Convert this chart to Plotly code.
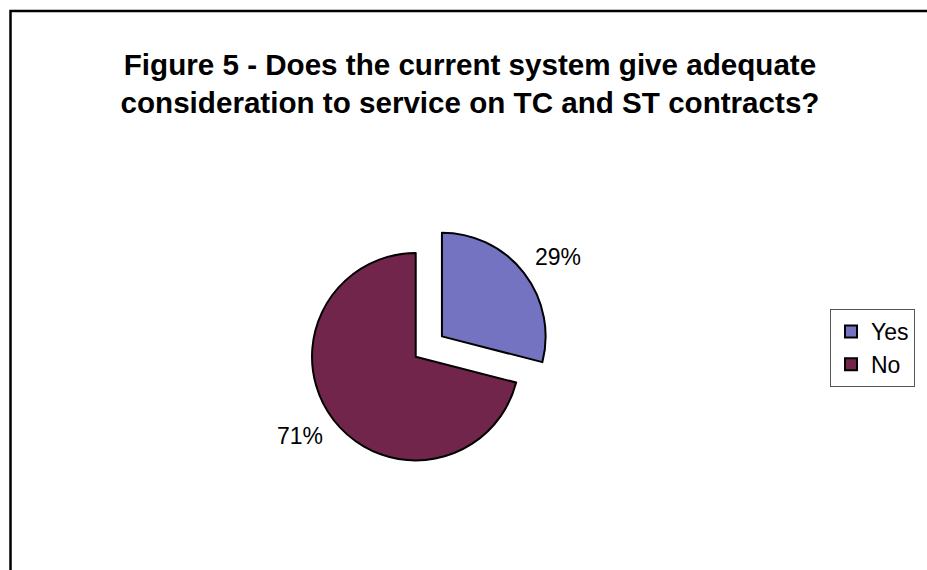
import math
import plotly.graph_objects as go

# Survey responses
answers = ["Yes", "No"]
shares = [29, 71]
slice_colors = ["#7373c2", "#71254b"]
pulls = [0.32, 0]

W, H = 927, 570
FONT = "Arial, Liberation Sans, sans-serif"
LABEL_SIZE = 23

# Pie placement (paper fractions; margins are zero so paper == page)
dom_x = [0.3008, 0.5961]
dom_y = [0.134, 0.6144]

fig = go.Figure(
    go.Pie(
        labels=answers,
        values=shares,
        sort=False,
        direction="clockwise",
        rotation=0,
        pull=pulls,
        marker=dict(colors=slice_colors, line=dict(color="black", width=2)),
        textinfo="none",
        domain=dict(x=dom_x, y=dom_y),
        hoverinfo="label+percent",
    )
)

# Percentage labels placed just beyond the rim of each slice, along its bisector
total = sum(shares)
cx = W * (dom_x[0] + dom_x[1]) / 2
cy = H * (1 - (dom_y[0] + dom_y[1]) / 2)
r = min(W * (dom_x[1] - dom_x[0]), H * (dom_y[1] - dom_y[0])) / 2 / (1 + max(pulls))
start = 0.0
annotations = []
for name, v, p in zip(answers, shares, pulls):
    frac = v / total
    mid = 2 * math.pi * (start + frac / 2)
    start += frac
    sx, sy = math.sin(mid), math.cos(mid)
    dist = (p + 1.12) * r
    px = cx + dist * sx
    py = cy - dist * sy
    annotations.append(
        dict(
            text=f"{round(frac * 100)}%",
            x=px / W,
            y=1 - py / H,
            xref="paper",
            yref="paper",
            xanchor="left" if sx > 0 else "right",
            yanchor="middle",
            yshift=8 if sy > 0 else -8,
            showarrow=False,
            borderpad=0,
            font=dict(family=FONT, size=LABEL_SIZE, color="black"),
        )
    )

fig.update_layout(
    width=W,
    height=H,
    margin=dict(l=0, r=0, t=0, b=0),
    paper_bgcolor="white",
    plot_bgcolor="white",
    title=dict(
        text="Figure 5 - Does the current system give adequate<br>consideration to service on TC and ST contracts?",
        x=470 / W,
        xanchor="center",
        y=1 - 75 / H,
        yanchor="middle",
        font=dict(family=FONT, size=29.6, color="black", weight="bold"),
    ),
    legend=dict(
        x=830 / W,
        y=1 - 309 / H,
        xanchor="left",
        yanchor="top",
        bordercolor="#555555",
        borderwidth=1,
        bgcolor="white",
        font=dict(family=FONT, size=23, color="black"),
    ),
    annotations=annotations,
    shapes=[
        dict(
            type="rect",
            xref="paper",
            yref="paper",
            x0=10.5 / W,
            x1=1.02,
            y0=-0.02,
            y1=(H - 11) / H,
            line=dict(color="black", width=2.5),
        )
    ],
)

fig.write_html("out.html")
